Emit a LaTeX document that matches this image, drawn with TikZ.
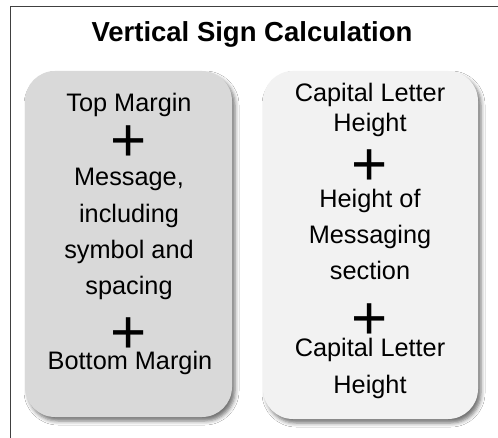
\documentclass[tikz,border=0pt]{standalone}
\usepackage{fontspec}
\setmainfont{Liberation Sans}
\usetikzlibrary{shadows.blur}
\definecolor{boxdark}{HTML}{D9D9D9}
\definecolor{boxlight}{HTML}{F2F2F2}
\definecolor{framec}{HTML}{404040}
\tikzset{
  card/.style={rectangle, rounded corners=30pt, draw=none, inner sep=0pt,
    blur shadow={shadow xshift=3pt, shadow yshift=-4pt, shadow blur radius=4pt, shadow opacity=55}},
  lbl/.style={align=center, inner sep=0pt, anchor=base, font=\fontsize{25.3}{36.5}\selectfont},
  lbltight/.style={lbl, font=\fontsize{25.3}{30}\selectfont},
  plussign/.style={inner sep=0pt, anchor=center, font=\fontsize{62}{62}\selectfont},
  ttl/.style={inner sep=0pt, anchor=base, font=\fontsize{27.5}{30}\selectfont\bfseries}
}
\begin{document}
\begin{tikzpicture}[x=1pt,y=-1pt]
\useasboundingbox[fill=white] (0,0) rectangle (498,438);
\coordinate (fc) at (10.5,6.5);
\coordinate (fr) at (498,6.5);
\coordinate (fb) at (10.5,438);
\draw[framec, line width=1.5pt] (fb) -- (fc) -- (fr);
\node[ttl] (title) at (252,42) {Vertical Sign Calculation};
\node[card, fill=boxdark, minimum width=207pt, minimum height=346pt] (lbox) at (128.5,244) {};
\node[card, fill=boxlight, minimum width=215pt, minimum height=348pt] (rbox) at (370.5,245) {};
% left column
\node[lbl] (l1) at (129,112) {Top Margin};
\node[plussign] (lp1) at (129,144) {+};
\node[lbl] (l2) at (129,295) {Message,\\including\\symbol and\\spacing};
\node[plussign] (lp2) at (129,336) {+};
\node[lbl] (l3) at (130,370) {Bottom Margin};
% right column
\node[lbltight] (r1) at (370,132) {Capital Letter\\Height};
\node[plussign] (rp1) at (370,168) {+};
\node[lbl] (r2) at (370,280) {Height of\\Messaging\\section};
\node[plussign] (rp2) at (370,322) {+};
\node[lbl] (r3) at (370,393) {Capital Letter\\Height};
\end{tikzpicture}
\end{document}
